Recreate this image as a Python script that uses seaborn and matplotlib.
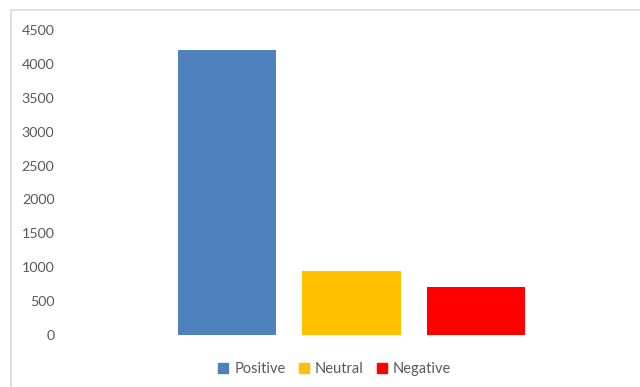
import matplotlib
matplotlib.use("Agg")
import matplotlib.pyplot as plt
from matplotlib.lines import Line2D
from matplotlib.patches import Rectangle
import seaborn as sns
import pandas as pd

# Sentiment counts
categories = ["Positive", "Neutral", "Negative"]
counts = [4210, 940, 715]
colors = ["#4F81BD", "#FFC000", "#FF0000"]

sns.set_theme(style="white")
plt.rcParams["font.family"] = ["Lato", "DejaVu Sans"]

df = pd.DataFrame({"sentiment": categories, "count": counts})

W, H = 640, 387
fig = plt.figure(figsize=(W / 100, H / 100), dpi=100)
ax = fig.add_axes([60 / W, 52 / H, 583 / W, 305 / H])

sns.barplot(data=df, x="sentiment", y="count", hue="sentiment",
            palette=colors, width=0.79, legend=False, ax=ax,
            edgecolor="none", saturation=1)

ax.set_ylim(0, 4500)
ax.set_yticks(range(0, 4501, 500))
ax.set_xlim(-1.34, 3.34)
ax.set_xticks([])
ax.set_xlabel("")
ax.set_ylabel("")
for s in ax.spines.values():
    s.set_visible(False)
ax.tick_params(axis="y", length=0, pad=4, labelsize=10.3, labelcolor="#595959")

# Outer chart frame
fig.patches.append(Rectangle((11 / W, -0.2), 1.2, 1.2 - 10 / H,
                             transform=fig.transFigure, fill=False,
                             edgecolor="#D9D9D9", linewidth=1.2))

handles = [Line2D([], [], marker="s", linestyle="none", markersize=6.5,
                  markerfacecolor=c, markeredgecolor=c) for c in colors]
fig.legend(handles, categories, loc="center", ncol=3,
           bbox_to_anchor=(335 / W, 1 - 369 / H), frameon=False,
           fontsize=10.5, labelcolor="#595959", handlelength=0.6,
           handletextpad=0.45, columnspacing=0.95)

fig.savefig("out.png", dpi=100, facecolor="white")
